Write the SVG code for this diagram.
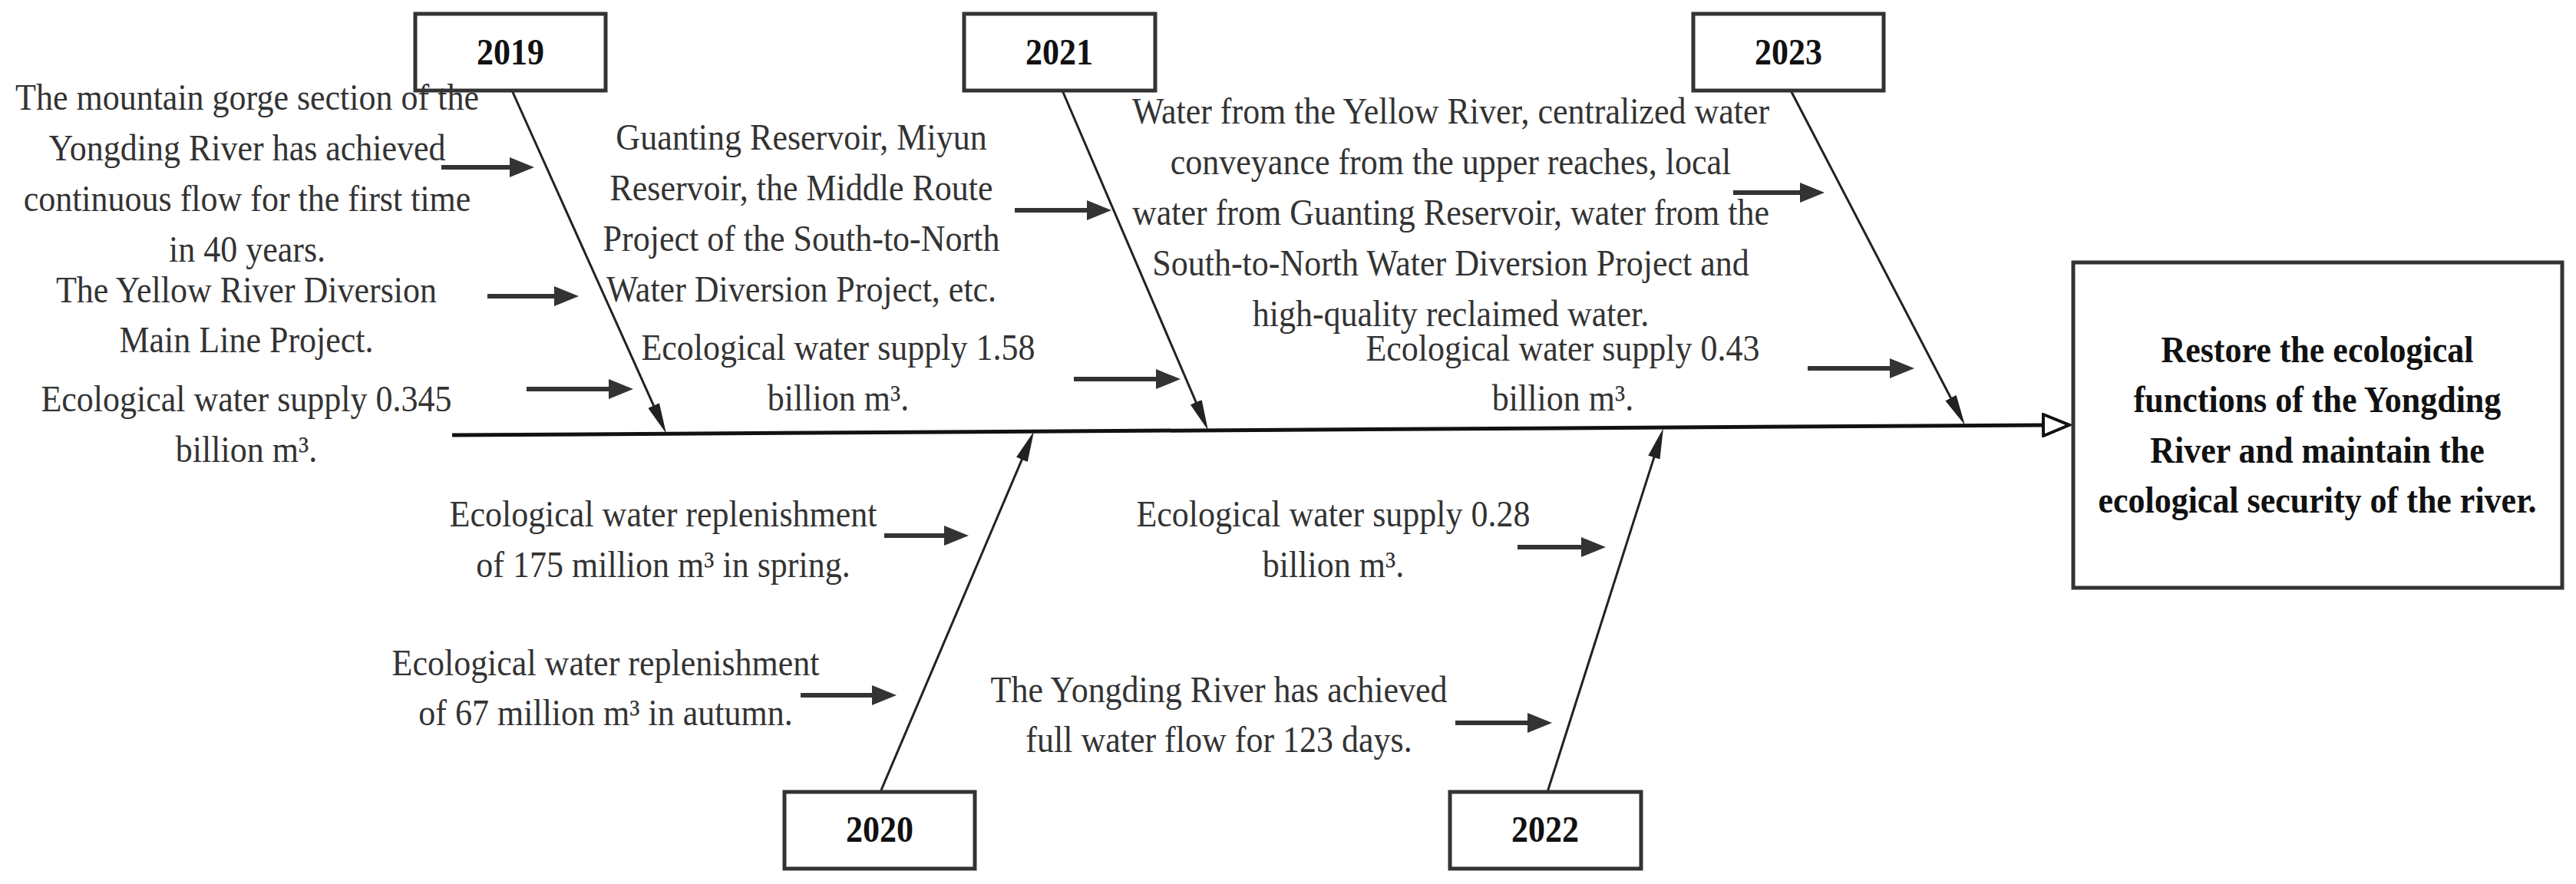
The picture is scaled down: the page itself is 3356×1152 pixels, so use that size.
<svg xmlns="http://www.w3.org/2000/svg" width="3356" height="1152" viewBox="0 0 3356 1152">
<defs>
<style>
.box{fill:#fff;stroke:#333;stroke-width:5}
.t{font-family:"Liberation Serif","Times New Roman",serif;font-size:44px;fill:#333;text-anchor:middle}
.b{font-family:"Liberation Serif","Times New Roman",serif;font-size:44px;font-weight:bold;fill:#111;text-anchor:middle}
.spine{stroke:#111;stroke-width:5;fill:none}
.branch{stroke:#222;stroke-width:3;fill:none}
.small{stroke:#333;stroke-width:6;fill:none}
</style>
<marker id="mb" markerUnits="userSpaceOnUse" viewBox="0 0 40 16" markerWidth="40" markerHeight="16" refX="20" refY="8" orient="auto">
<path d="M0,0 L40,8 L0,16 z" fill="#222"/>
</marker>
<marker id="ms" markerUnits="userSpaceOnUse" viewBox="0 0 32 26" markerWidth="32" markerHeight="26" refX="6" refY="13" orient="auto">
<path d="M0,0 L32,13 L0,26 z" fill="#333"/>
</marker>
<marker id="mo" markerUnits="userSpaceOnUse" viewBox="0 0 40 32" markerWidth="40" markerHeight="32" refX="2" refY="16" orient="auto">
<path d="M2,2 L36,16 L2,30 z" fill="#fff" stroke="#111" stroke-width="4"/>
</marker>
</defs>
<rect width="3356" height="1152" fill="#fff"/>

<g id="connectors">
<line class="spine" x1="589" y1="567" x2="2662" y2="554" marker-end="url(#mo)"/>
<line class="branch" x1="667" y1="118" x2="859.8" y2="546.8" marker-end="url(#mb)"/>
<line class="branch" x1="1384" y1="118" x2="1566.1" y2="542.6" marker-end="url(#mb)"/>
<line class="branch" x1="2333" y1="118" x2="2550.7" y2="536.3" marker-end="url(#mb)"/>
<line class="branch" x1="1147" y1="1032" x2="1339.2" y2="580.4" marker-end="url(#mb)"/>
<line class="branch" x1="2016" y1="1032" x2="2160.9" y2="577.1" marker-end="url(#mb)"/>
<line class="small" x1="575" y1="218" x2="670" y2="218" marker-end="url(#ms)"/>
<line class="small" x1="635" y1="386" x2="728" y2="386" marker-end="url(#ms)"/>
<line class="small" x1="686" y1="507" x2="799" y2="507" marker-end="url(#ms)"/>
<line class="small" x1="1322" y1="274" x2="1422" y2="274" marker-end="url(#ms)"/>
<line class="small" x1="1399" y1="494" x2="1512" y2="494" marker-end="url(#ms)"/>
<line class="small" x1="2258" y1="251" x2="2351" y2="251" marker-end="url(#ms)"/>
<line class="small" x1="2355" y1="480" x2="2468" y2="480" marker-end="url(#ms)"/>
<line class="small" x1="1152" y1="698" x2="1236" y2="698" marker-end="url(#ms)"/>
<line class="small" x1="1043" y1="906" x2="1142" y2="906" marker-end="url(#ms)"/>
<line class="small" x1="1977" y1="713" x2="2066" y2="713" marker-end="url(#ms)"/>
<line class="small" x1="1896" y1="942" x2="1996" y2="942" marker-end="url(#ms)"/>
</g>

<g id="y2019"><rect class="box" x="541" y="18" width="248" height="100"/><text class="b" transform="translate(665 84) scale(1 1.08)">2019</text></g>
<g id="y2021"><rect class="box" x="1256" y="18" width="249" height="100"/><text class="b" transform="translate(1380 84) scale(1 1.08)">2021</text></g>
<g id="y2023"><rect class="box" x="2206" y="18" width="248" height="100"/><text class="b" transform="translate(2330 84) scale(1 1.08)">2023</text></g>
<g id="y2020"><rect class="box" x="1022" y="1032" width="248" height="100"/><text class="b" transform="translate(1146 1097) scale(1 1.08)">2020</text></g>
<g id="y2022"><rect class="box" x="1889" y="1032" width="249" height="100"/><text class="b" transform="translate(2013 1097) scale(1 1.08)">2022</text></g>

<g id="goal"><rect class="box" x="2701" y="342" width="637" height="424"/>
<text class="b" transform="translate(3019 472) scale(1 1.08)"><tspan x="0" y="0">Restore the ecological</tspan><tspan x="0" dy="60.5">functions of the Yongding</tspan><tspan x="0" dy="60.5">River and maintain the</tspan><tspan x="0" dy="60.5">ecological security of the river.</tspan></text>
</g>

<g id="l2019a"><text class="t" transform="translate(322 143) scale(1 1.08)"><tspan x="0" y="0">The mountain gorge section of the</tspan><tspan x="0" dy="61.2">Yongding River has achieved</tspan><tspan x="0" dy="61.2">continuous flow for the first time</tspan><tspan x="0" dy="61.2">in 40 years.</tspan></text></g>
<g id="l2019b"><text class="t" transform="translate(321 394) scale(1 1.08)"><tspan x="0" y="0">The Yellow River Diversion</tspan><tspan x="0" dy="60.2">Main Line Project.</tspan></text></g>
<g id="l2019c"><text class="t" transform="translate(321 536) scale(1 1.08)"><tspan x="0" y="0">Ecological water supply 0.345</tspan><tspan x="0" dy="61">billion m³.</tspan></text></g>

<g id="l2021a"><text class="t" transform="translate(1044 195) scale(1 1.08)"><tspan x="0" y="0">Guanting Reservoir, Miyun</tspan><tspan x="0" dy="61.1">Reservoir, the Middle Route</tspan><tspan x="0" dy="61.1">Project of the South-to-North</tspan><tspan x="0" dy="61.1">Water Diversion Project, etc.</tspan></text></g>
<g id="l2021b"><text class="t" transform="translate(1092 469) scale(1 1.08)"><tspan x="0" y="0">Ecological water supply 1.58</tspan><tspan x="0" dy="61">billion m³.</tspan></text></g>

<g id="l2023a"><text class="t" transform="translate(1890 161) scale(1 1.08)"><tspan x="0" y="0">Water from the Yellow River, centralized water</tspan><tspan x="0" dy="61.1">conveyance from the upper reaches, local</tspan><tspan x="0" dy="61.1">water from Guanting Reservoir, water from the</tspan><tspan x="0" dy="61.1">South-to-North Water Diversion Project and</tspan><tspan x="0" dy="61.1">high-quality reclaimed water.</tspan></text></g>
<g id="l2023b"><text class="t" transform="translate(2036 470) scale(1 1.08)"><tspan x="0" y="0">Ecological water supply 0.43</tspan><tspan x="0" dy="60.2">billion m³.</tspan></text></g>

<g id="l2020a"><text class="t" transform="translate(864 686) scale(1 1.08)"><tspan x="0" y="0">Ecological water replenishment</tspan><tspan x="0" dy="61.1">of 175 million m³ in spring.</tspan></text></g>
<g id="l2020b"><text class="t" transform="translate(789 880) scale(1 1.08)"><tspan x="0" y="0">Ecological water replenishment</tspan><tspan x="0" dy="60.2">of 67 million m³ in autumn.</tspan></text></g>

<g id="l2022a"><text class="t" transform="translate(1737 686) scale(1 1.08)"><tspan x="0" y="0">Ecological water supply 0.28</tspan><tspan x="0" dy="61.1">billion m³.</tspan></text></g>
<g id="l2022b"><text class="t" transform="translate(1588 915) scale(1 1.08)"><tspan x="0" y="0">The Yongding River has achieved</tspan><tspan x="0" dy="60.2">full water flow for 123 days.</tspan></text></g>
</svg>
